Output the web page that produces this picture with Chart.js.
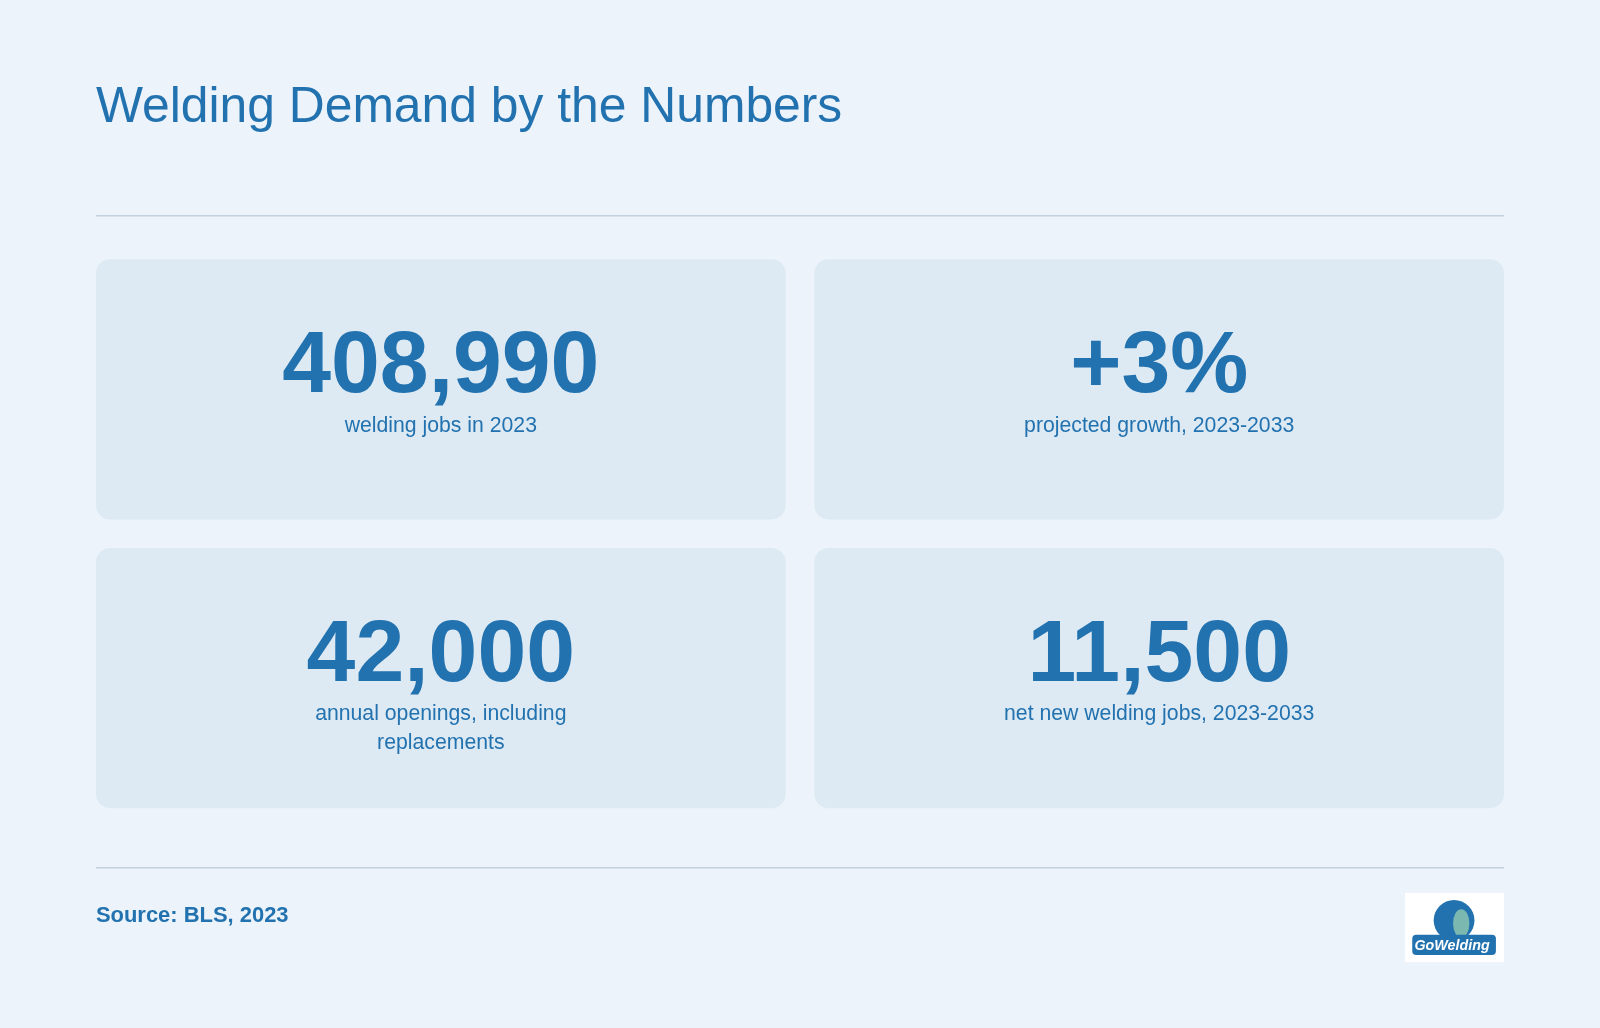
<!DOCTYPE html><html><head><meta charset="utf-8">
<script src="https://cdn.jsdelivr.net/npm/chart.js@4"></script>
<style>html,body{margin:0;padding:0;background:#ecf3fa;}#c{display:block;}</style></head><body>
<div style="width:1600px;height:1028px"><canvas id="c"></canvas></div>
<script>
const title = "Welding Demand by the Numbers";
const statValues = ["408,990", "+3%", "42,000", "11,500"];
const statLabels = [["welding jobs in 2023"], ["projected growth, 2023-2033"], ["annual openings, including", "replacements"], ["net new welding jobs, 2023-2033"]];
const source = "Source: BLS, 2023";
const F = "'Liberation Sans', Arial, sans-serif";
const blue = "#2272b0";
function rr(ctx,x,y,w,h,r){ctx.beginPath();ctx.moveTo(x+r,y);ctx.arcTo(x+w,y,x+w,y+h,r);ctx.arcTo(x+w,y+h,x,y+h,r);ctx.arcTo(x,y+h,x,y,r);ctx.arcTo(x,y,x+w,y,r);ctx.closePath();}
const painter = {id:'painter', afterDraw(chart){
  const ctx=chart.ctx; ctx.save(); const s=1600/1568; ctx.scale(s,s);
  ctx.fillStyle="#ecf3fa"; ctx.fillRect(0,0,1568,1008);
  ctx.fillStyle=blue; ctx.textBaseline="alphabetic"; ctx.textAlign="left";
  ctx.font="48.8px "+F; ctx.fillText(title,94,120);
  ctx.strokeStyle="#c3d2de"; ctx.lineWidth=1.5;
  [211.5,850.5].forEach(y=>{ctx.beginPath();ctx.moveTo(94,y);ctx.lineTo(1474,y);ctx.stroke();});
  const xs=[94,798], ys=[254,537], w=676, h=255;
  statValues.forEach((v,i)=>{
    const x=xs[i%2], y=ys[Math.floor(i/2)];
    ctx.fillStyle="#deeaf3"; rr(ctx,x,y,w,h,14); ctx.fill();
    ctx.fillStyle=blue; ctx.textAlign="center";
    ctx.font="bold 86px "+F; ctx.fillText(v,x+w/2,y+130);
    ctx.font="20.8px "+F;
    statLabels[i].forEach((l,j)=>ctx.fillText(l,x+w/2,y+169+j*28));
  });
  ctx.textAlign="left"; ctx.font="bold 21.5px "+F; ctx.fillText(source,94,904);
  ctx.fillStyle="#fff"; ctx.fillRect(1377,875,97,68);
  ctx.fillStyle=blue; ctx.beginPath(); ctx.arc(1425,902,20,0,Math.PI*2); ctx.fill();
  ctx.fillStyle="#7bb8b0"; ctx.beginPath(); ctx.ellipse(1432,905,8,14,0,0,Math.PI*2); ctx.fill();
  rr(ctx,1384,916,82,20,4); ctx.fillStyle=blue; ctx.fill();
  ctx.fillStyle="#fff"; ctx.font="italic bold 14px "+F; ctx.textAlign="center"; ctx.fillText("GoWelding",1423,931);
  ctx.restore();
}};
new Chart(document.getElementById('c'),{type:'bar',data:{labels:[],datasets:[{data:[]}]},
 options:{responsive:true,maintainAspectRatio:false,animation:false,events:[],
  plugins:{legend:{display:false},tooltip:{enabled:false}},scales:{x:{display:false},y:{display:false}}},
 plugins:[painter]});
</script></body></html>
